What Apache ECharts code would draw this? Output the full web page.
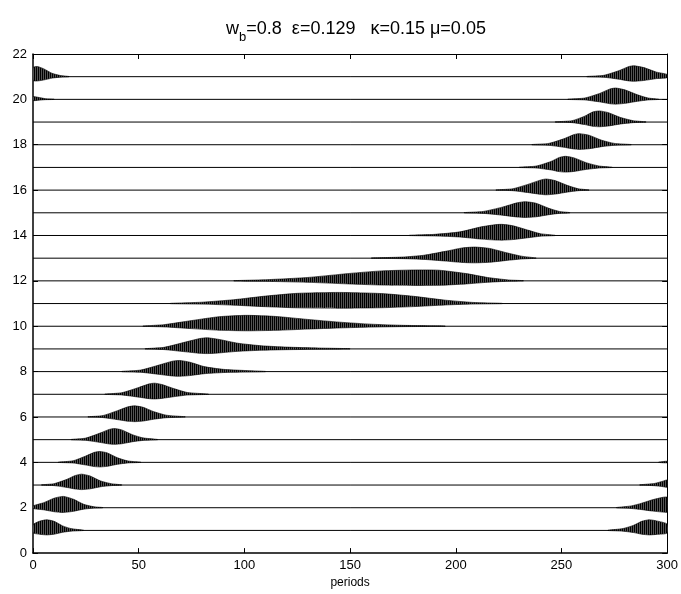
<!DOCTYPE html>
<html>
<head>
<meta charset="utf-8">
<script src="https://cdn.jsdelivr.net/npm/echarts@6/dist/echarts.min.js"></script>
<style>
  html, body { margin: 0; padding: 0; background: #fff; }
  #chart { width: 681px; height: 594px; }
</style>
</head>
<body>
<div id="chart"></div>
<script>
// x axis ticks (periods) and y axis ticks (trace number)
var xTicks = [0, 50, 100, 150, 200, 250, 300];
var yTicks = [0, 2, 4, 6, 8, 10, 12, 14, 16, 18, 20, 22];

// upper envelope of each wave packet: [period, height above the trace line]
// each trace may hold one or two packets (wrap round at 0 / 300)
var trace1 = [
  [[0, 0.25], [3, 0.4], [6.5, 0.47], [10, 0.4], [14, 0.2], [18, 0.08], [24, 0.01]],
  [[272, 0.01], [279, 0.08], [284, 0.22], [288, 0.4], [291.5, 0.47], [295, 0.42], [300, 0.28]]
];
var trace2 = [
  [[0, 0.08], [5, 0.22], [10, 0.42], [14.3, 0.5], [19, 0.38], [24, 0.15], [29, 0.04], [33, 0.01]],
  [[276, 0.01], [283, 0.08], [288, 0.2], [293, 0.35], [298, 0.46], [300, 0.46]]
];
var trace3 = [
  [[4, 0.01], [10, 0.06], [16, 0.25], [20, 0.42], [23, 0.48], [27, 0.4], [32, 0.18], [37, 0.06], [42, 0.01]],
  [[287, 0.01], [294, 0.07], [298, 0.17], [300, 0.22]]
];
var trace4 = [
  [[12, 0.01], [19, 0.07], [25, 0.28], [29, 0.44], [31.7, 0.48], [35, 0.42], [40, 0.2], [45, 0.06], [51, 0.01]],
  [[296, 0.01], [300, 0.05]]
];
var trace5 = [
  [[18, 0.01], [25, 0.07], [32, 0.3], [36, 0.45], [38.7, 0.49], [42, 0.43], [47, 0.22], [52, 0.08], [59, 0.01]]
];
var trace6 = [
  [[26, 0.01], [33, 0.06], [40, 0.28], [45, 0.45], [48.2, 0.49], [52, 0.43], [57, 0.24], [63, 0.08], [72, 0.01]]
];
var trace7 = [
  [[34, 0.01], [42, 0.07], [50, 0.3], [55, 0.46], [57.6, 0.49], [61, 0.43], [67, 0.24], [73, 0.08], [83, 0.01]]
];
var trace8 = [
  [[42, 0.01], [51, 0.07], [60, 0.3], [66, 0.46], [69.4, 0.49], [74, 0.42], [81, 0.22], [90, 0.1], [100, 0.05], [110, 0.01]]
];
var trace9 = [
  [[53, 0.01], [62, 0.07], [72, 0.3], [79, 0.46], [82.5, 0.49], [88, 0.42], [97, 0.25], [108, 0.14], [120, 0.08], [135, 0.04], [150, 0.01]]
];
var trace10 = [
  [[52, 0.01], [62, 0.07], [75, 0.25], [88, 0.42], [101, 0.48], [115, 0.43], [130, 0.3], [145, 0.18], [160, 0.09], [175, 0.04], [195, 0.01]]
];
var trace11 = [
  [[65, 0.01], [80, 0.06], [95, 0.17], [110, 0.33], [125, 0.45], [145, 0.49], [165, 0.44], [180, 0.32], [195, 0.15], [208, 0.05], [222, 0.01]]
];
var trace12 = [
  [[95, 0.01], [110, 0.05], [130, 0.15], [150, 0.33], [165, 0.44], [180, 0.48], [192, 0.47], [205, 0.32], [215, 0.15], [225, 0.04], [232, 0.01]]
];
var trace13 = [
  [[160, 0.01], [175, 0.05], [185, 0.13], [195, 0.3], [203, 0.45], [209, 0.49], [216, 0.43], [224, 0.24], [231, 0.09], [238, 0.01]]
];
var trace14 = [
  [[178, 0.01], [190, 0.05], [202, 0.16], [212, 0.38], [219, 0.48], [222, 0.49], [227, 0.43], [234, 0.24], [240, 0.08], [247, 0.01]]
];
var trace15 = [
  [[204, 0.01], [213, 0.06], [222, 0.25], [229, 0.44], [233, 0.49], [238, 0.42], [244, 0.2], [249, 0.06], [254, 0.01]]
];
var trace16 = [
  [[219, 0.01], [227, 0.06], [234, 0.25], [240, 0.44], [242.7, 0.49], [247, 0.42], [253, 0.2], [258, 0.06], [263, 0.01]]
];
var trace17 = [
  [[230, 0.01], [238, 0.06], [245, 0.26], [249, 0.44], [252, 0.49], [256, 0.42], [262, 0.2], [268, 0.06], [274, 0.01]]
];
var trace18 = [
  [[236, 0.01], [244, 0.06], [251, 0.26], [256, 0.45], [258.4, 0.49], [263, 0.42], [269, 0.2], [275, 0.06], [283, 0.01]]
];
var trace19 = [
  [[247, 0.01], [255, 0.06], [261, 0.26], [265, 0.45], [268, 0.49], [272, 0.42], [278, 0.2], [284, 0.06], [290, 0.01]]
];
var trace20 = [
  [[0, 0.12], [3, 0.08], [6, 0.03], [10, 0.01]],
  [[253, 0.01], [261, 0.06], [268, 0.26], [273, 0.46], [275.7, 0.5], [280, 0.42], [286, 0.2], [291, 0.06], [296, 0.01]]
];
var trace21 = [
  [[0, 0.4], [2, 0.45], [5, 0.35], [9, 0.15], [13, 0.05], [17, 0.01]],
  [[262, 0.01], [270, 0.06], [277, 0.26], [282, 0.45], [284.4, 0.48], [289, 0.4], [295, 0.2], [300, 0.1]]
];
var traces = [trace1, trace2, trace3, trace4, trace5, trace6, trace7, trace8, trace9, trace10,
  trace11, trace12, trace13, trace14, trace15, trace16, trace17, trace18, trace19, trace20, trace21];

// the swing below the line is smaller than above it
var LOWER_RATIO = 0.42;

var FONT = 'Liberation Sans, Arial, Helvetica, sans-serif';

// dense oscillation look: fine vertical stripes
var stripe = document.createElement('canvas');
stripe.width = 2;
stripe.height = 1;
var sctx = stripe.getContext('2d');
sctx.fillStyle = '#000';
sctx.fillRect(0, 0, 1, 1);
sctx.fillStyle = '#555';
sctx.fillRect(1, 0, 1, 1);

var packetItems = [];
traces.forEach(function (tr, i) {
  tr.forEach(function (pk, j) {
    packetItems.push([i + 1, j]);
  });
});

var series = [];
traces.forEach(function (tr, i) {
  series.push({
    type: 'line',
    data: [[xTicks[0], i + 1], [xTicks[xTicks.length - 1], i + 1]],
    symbol: 'none',
    silent: true,
    lineStyle: { color: '#000', width: 1 },
    z: 2
  });
});

series.push({
  type: 'custom',
  clip: true,
  silent: true,
  data: packetItems,
  z: 3,
  renderItem: function (params, api) {
    var k = api.value(0);
    var knots = traces[k - 1][api.value(1)];
    var pts = [];
    for (var a = 0; a < knots.length; a++) {
      pts.push(api.coord([knots[a][0], k + knots[a][1]]));
    }
    for (var b = knots.length - 1; b >= 0; b--) {
      pts.push(api.coord([knots[b][0], k - knots[b][1] * LOWER_RATIO]));
    }
    return {
      type: 'polygon',
      shape: { points: pts, smooth: 0.2 },
      style: { fill: { image: stripe, repeat: 'repeat' }, stroke: '#000', lineWidth: 0.6 }
    };
  }
});

var chart = echarts.init(document.getElementById('chart'), null, { renderer: 'canvas' });

var option = {
  backgroundColor: '#fff',
  animation: false,
  title: {
    text: '{m|w}{s|b}{m|=0.8  ε=0.129   κ=0.15 μ=0.05}',
    left: 351,
    textAlign: 'center',
    top: 10,
    textStyle: {
      rich: {
        m: { fontFamily: FONT, fontSize: 18, color: '#000', fontWeight: 'normal' },
        s: { fontFamily: FONT, fontSize: 13, color: '#000', fontWeight: 'normal', verticalAlign: 'bottom', padding: [16, 0, 0, 0] }
      }
    }
  },
  grid: { left: 33, right: 13, top: 54, bottom: 38 },
  xAxis: [
    {
      type: 'value',
      min: 0,
      max: 300,
      interval: 50,
      name: 'periods',
      nameLocation: 'middle',
      nameGap: 23,
      nameTextStyle: { fontFamily: FONT, fontSize: 12, color: '#000' },
      axisLine: { lineStyle: { color: '#000', width: 1.5 } },
      axisTick: { inside: true, length: 5, lineStyle: { color: '#000' } },
      axisLabel: { fontFamily: FONT, fontSize: 13, color: '#000', margin: 6 },
      splitLine: { show: false }
    },
    {
      type: 'value',
      position: 'top',
      min: 0,
      max: 300,
      interval: 50,
      axisLine: { show: true, onZero: false, lineStyle: { color: '#000', width: 1 } },
      axisTick: { inside: true, length: 5, lineStyle: { color: '#000' } },
      axisLabel: { show: false },
      splitLine: { show: false }
    }
  ],
  yAxis: [
    {
      type: 'value',
      min: 0,
      max: 22,
      interval: 2,
      axisLine: { show: true, lineStyle: { color: '#000', width: 1.5 } },
      axisTick: { show: true, inside: true, length: 5, lineStyle: { color: '#000' } },
      axisLabel: { fontFamily: FONT, fontSize: 13, color: '#000', margin: 6 },
      splitLine: { show: false }
    },
    {
      type: 'value',
      position: 'right',
      min: 0,
      max: 22,
      interval: 2,
      axisLine: { show: true, onZero: false, lineStyle: { color: '#000', width: 1 } },
      axisTick: { show: true, inside: true, length: 5, lineStyle: { color: '#000' } },
      axisLabel: { show: false },
      splitLine: { show: false }
    }
  ],
  series: series
};

chart.setOption(option);
</script>
</body>
</html>
